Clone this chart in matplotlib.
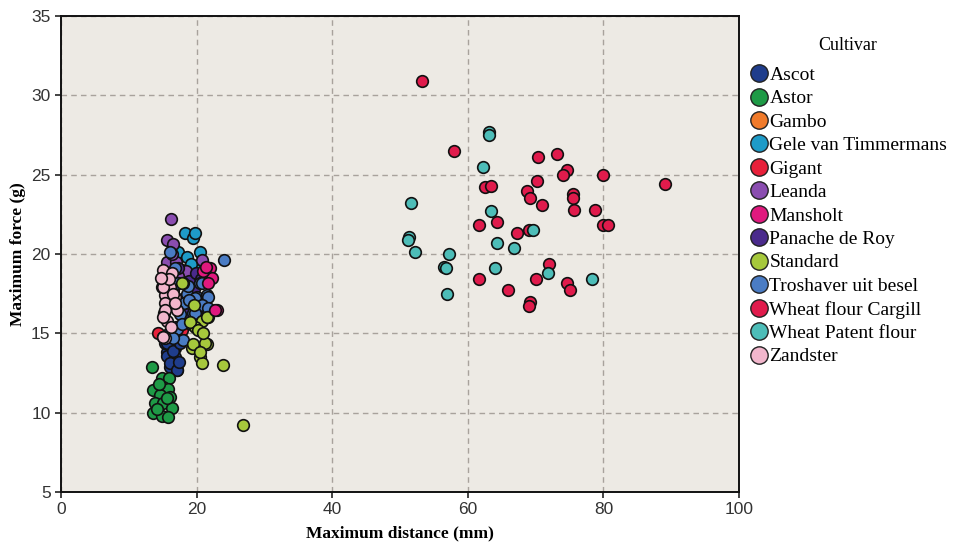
import matplotlib
matplotlib.use("Agg")
import matplotlib.pyplot as plt
from matplotlib.lines import Line2D

cultivars = ["Ascot", "Astor", "Gambo", "Gele van Timmermans", "Gigant", "Leanda",
             "Mansholt", "Panache de Roy", "Standard", "Troshaver uit besel",
             "Wheat flour Cargill", "Wheat Patent flour", "Zandster"]
colors = ["#1F3D8C", "#1E9A46", "#F07A2A", "#1E9BC8", "#E8203A", "#8A4DB0",
          "#E0197E", "#4A2A8C", "#A6C83C", "#4A7CC4", "#E01B4C", "#4DBDB8", "#F2B6CC"]

ascot_x = [15.6, 16.4, 17.1, 16.1, 15.3, 16.8, 15.6, 16.8, 16.1, 17.1, 15.6, 16.5, 17.6,
           16.0, 15.0, 16.9, 17.4]
ascot_y = [13.8, 13.3, 12.7, 12.9, 14.4, 14.1, 13.6, 13.5, 13.1, 12.7, 14.4, 13.9, 14.4,
           15.0, 14.8, 15.4, 13.2]

astor_x = [13.4, 14.9, 16.0, 13.6, 15.0, 15.8, 14.6, 16.1, 13.9, 15.0, 16.4, 13.6, 14.9,
           15.8, 14.2, 15.6, 14.4]
astor_y = [12.9, 12.2, 12.2, 11.4, 11.6, 11.5, 11.1, 11.0, 10.6, 10.6, 10.3, 10.0, 9.8,
           9.7, 10.2, 10.9, 11.8]

gambo_x = []
gambo_y = []

gele_x = [18.3, 19.5, 19.8, 20.5, 17.3, 20.1, 18.6, 18.0, 19.2]
gele_y = [21.3, 21.0, 21.3, 20.1, 20.1, 19.0, 19.8, 18.7, 19.4]

gigant_x = [14.3, 16.1, 17.8, 15.2]
gigant_y = [15.0, 14.4, 15.2, 16.3]

leanda_x = [16.2, 15.6, 16.5, 15.6, 17.0, 20.8, 19.2, 17.8, 16.4, 18.5, 17.3]
leanda_y = [22.2, 20.9, 20.6, 19.5, 19.5, 19.6, 18.5, 19.0, 20.0, 18.9, 18.6]

mansholt_x = [22.0, 22.3, 23.0, 20.9, 22.7, 21.7, 21.4]
mansholt_y = [19.1, 18.5, 16.5, 18.9, 16.5, 18.2, 19.2]

panache_x = [16.5, 17.8, 18.9, 19.6, 17.2, 18.4, 19.9, 20.6]
panache_y = [17.7, 17.1, 18.3, 17.8, 19.1, 16.2, 18.8, 18.4]

standard_x = [18.0, 20.8, 19.8, 21.7, 19.3, 20.5, 21.5, 20.5, 20.8, 23.9, 26.8,
              19.0, 20.2, 21.5, 19.5, 21.2, 20.5, 17.8, 19.6, 21.0]
standard_y = [18.2, 15.8, 15.4, 16.0, 14.1, 14.1, 14.3, 13.5, 13.1, 13.0, 9.2,
              15.7, 15.2, 16.0, 14.3, 14.4, 13.8, 18.2, 16.8, 15.0]

trosh_x = [16.1, 24.0, 18.6, 20.1, 21.5, 20.8, 19.5, 21.7, 18.7, 20.5, 17.1, 18.0, 16.5,
           17.3, 20.8, 21.7, 19.8, 20.8, 19.8, 21.7, 16.8, 18.2, 19.1, 17.6, 18.9, 17.9]
trosh_y = [20.1, 19.6, 17.5, 17.3, 17.4, 16.8, 16.3, 16.3, 18.0, 18.2, 15.3, 14.6, 14.7,
           18.2, 18.2, 17.3, 17.2, 16.8, 16.3, 16.6, 19.1, 16.9, 15.6, 16.2, 17.1, 15.6]

cargill_x = [53.2, 58.0, 62.5, 63.4, 70.4, 73.2, 74.6, 74.0, 79.9, 70.2, 68.7, 69.2,
             70.9, 75.5, 75.5, 75.7, 78.8, 61.7, 64.3, 67.3, 69.0, 79.9, 80.7, 89.1,
             72.0, 61.7, 70.1, 65.9, 74.6, 75.1, 69.2, 69.0]
cargill_y = [30.9, 26.5, 24.2, 24.3, 26.1, 26.3, 25.3, 25.0, 25.0, 24.6, 24.0, 23.5,
             23.1, 23.8, 23.5, 22.8, 22.8, 21.8, 22.0, 21.3, 21.5, 21.8, 21.8, 24.4,
             19.4, 18.4, 18.4, 17.7, 18.2, 17.7, 17.0, 16.7]

patent_x = [63.1, 63.1, 62.2, 51.6, 63.4, 69.6, 51.3, 51.2, 52.2, 57.2, 56.5, 56.8,
            56.9, 64.3, 66.8, 64.0, 71.8, 78.3]
patent_y = [27.7, 27.5, 25.5, 23.2, 22.7, 21.5, 21.1, 20.9, 20.1, 20.0, 19.2, 19.1,
            17.5, 20.7, 20.4, 19.1, 18.8, 18.4]

zand_x = [14.9, 16.1, 15.3, 16.8, 15.3, 17.1, 15.6, 15.3, 15.0, 16.4, 15.0, 16.5,
          15.3, 15.0, 15.0, 16.8, 16.0, 16.2, 14.8]
zand_y = [17.9, 17.9, 17.4, 17.3, 16.9, 16.5, 15.8, 14.7, 19.0, 18.8, 17.9, 17.5,
          16.5, 16.0, 14.8, 16.9, 18.4, 15.4, 18.5]

series_x = [ascot_x, astor_x, gambo_x, gele_x, gigant_x, leanda_x, mansholt_x,
            panache_x, standard_x, trosh_x, cargill_x, patent_x, zand_x]
series_y = [ascot_y, astor_y, gambo_y, gele_y, gigant_y, leanda_y, mansholt_y,
            panache_y, standard_y, trosh_y, cargill_y, patent_y, zand_y]

x_ticks = [0, 20, 40, 60, 80, 100]
y_ticks = [5, 10, 15, 20, 25, 30, 35]

plt.rcParams['font.family'] = ['Liberation Serif', 'DejaVu Serif']

fig = plt.figure(figsize=(9.64, 5.48), dpi=100)
ax = fig.add_axes([0.0633, 0.1022, 0.7033, 0.8686])
ax.set_facecolor("#EDEAE4")

draw_order = [4, 2, 0, 1, 3, 5, 7, 9, 8, 6, 12, 10, 11]
for i in draw_order:
    ax.scatter(series_x[i], series_y[i], s=70, c=colors[i], edgecolors="#111111",
               linewidths=1.2, zorder=3)

ax.set_xlim(0, 100)
ax.set_ylim(5, 35)
ax.set_xticks(x_ticks)
ax.set_yticks(y_ticks)
ax.grid(True, linestyle=(0, (4, 3)), color="#A8A29C", linewidth=1.0, zorder=1)
for sp in ax.spines.values():
    sp.set_linewidth(1.4)
    sp.set_color("#111111")
ax.tick_params(direction="out", length=4, width=1.2, labelsize=12.5, colors="#222222")
for lab in ax.get_xticklabels() + ax.get_yticklabels():
    lab.set_family(['Liberation Sans Narrow', 'Liberation Sans', 'DejaVu Sans'])
    lab.set_color("#333333")

ax.set_xlabel("Maximum distance (mm)", fontsize=12.5, fontweight="bold", labelpad=6)
ax.set_ylabel("Maximum force (g)", fontsize=12.5, fontweight="bold", labelpad=4)

handles = [Line2D([0], [0], marker="o", linestyle="", markersize=12.5,
                  markerfacecolor=colors[i], markeredgecolor="#222222",
                  markeredgewidth=1.0) for i in range(len(cultivars))]
leg = fig.legend(handles, cultivars, title="Cultivar", loc="upper left",
                 bbox_to_anchor=(0.772, 0.94), frameon=False, fontsize=14,
                 title_fontsize=13, handletextpad=0.0, labelspacing=0.30,
                 borderaxespad=0, handlelength=1.1, borderpad=0.2)
leg._legend_box.align = "center"
leg._legend_box.sep = 9

fig.savefig("out.png", dpi=100, facecolor="white")
